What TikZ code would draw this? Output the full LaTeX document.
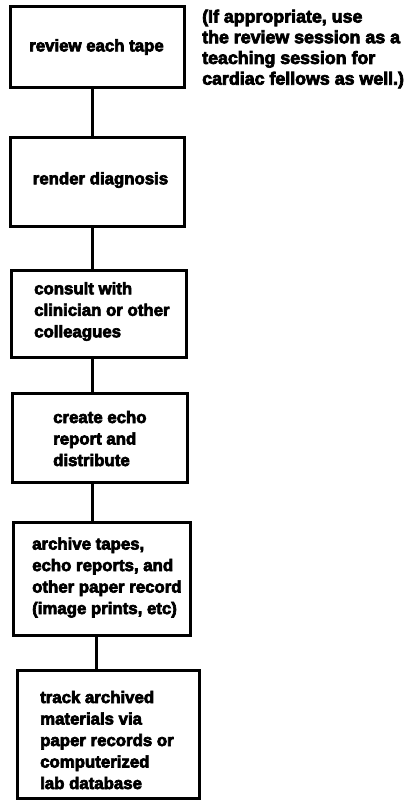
\documentclass[tikz,border=0pt]{standalone}
\usepackage{fontspec}
\setmainfont{Liberation Sans}[BoldFeatures={FakeBold=4}]
\begin{document}
\begin{tikzpicture}[x=1pt,y=-1pt,
  stepbox/.style={draw=black,line width=3pt,inner sep=0pt},
  txt/.style={inner sep=0pt,font=\fontsize{16.8}{21.5}\selectfont\bfseries,align=left},
  notetxt/.style={inner sep=0pt,font=\fontsize{17.8}{20.7}\selectfont\bfseries,align=left},
  conn/.style={draw=black,line width=3pt}]
\useasboundingbox (0,0) rectangle (405,800);
\node[stepbox,minimum width=174pt,minimum height=80pt] (b1) at (97,47) {};
\node[stepbox,minimum width=174pt,minimum height=89pt] (b2) at (97,181.5) {};
\node[stepbox,minimum width=175pt,minimum height=87pt] (b3) at (98.5,313.5) {};
\node[stepbox,minimum width=175pt,minimum height=89pt] (b4) at (99.5,437.5) {};
\node[stepbox,minimum width=177pt,minimum height=113pt] (b5) at (101.5,578.5) {};
\node[stepbox,minimum width=182pt,minimum height=128pt] (b6) at (108,734) {};
\node[txt] (t1) at (96.5,47) {review each tape};
\node[txt] (t2) at (100.5,180) {render diagnosis};
\node[txt,anchor=west] (t3) at (34,311.5) {consult with\\clinician or other\\colleagues};
\node[txt,anchor=west] (t4) at (53,438.5) {create echo\\report and\\distribute};
\node[txt,anchor=west] (t5) at (32,577.5) {archive tapes,\\echo reports, and\\other paper record\\(image prints, etc)};
\node[txt,anchor=west] (t6) at (40,740) {track archived\\materials via\\paper records or\\computerized\\lab database};
\node[notetxt,anchor=west] (note) at (202,49) {(If appropriate, use\\the review session as a\\teaching session for\\cardiac fellows as well.)};
\draw[conn] ([xshift=-5pt]b1.south) -- ([xshift=-5pt]b1.south |- b2.north);
\draw[conn] ([xshift=-5pt]b2.south) -- ([xshift=-5pt]b2.south |- b3.north);
\draw[conn] ([xshift=-6.5pt]b3.south) -- ([xshift=-6.5pt]b3.south |- b4.north);
\draw[conn] ([xshift=-7.5pt]b4.south) -- ([xshift=-7.5pt]b4.south |- b5.north);
\draw[conn] ([xshift=-5.5pt]b5.south) -- ([xshift=-5.5pt]b5.south |- b6.north);
\end{tikzpicture}
\end{document}
